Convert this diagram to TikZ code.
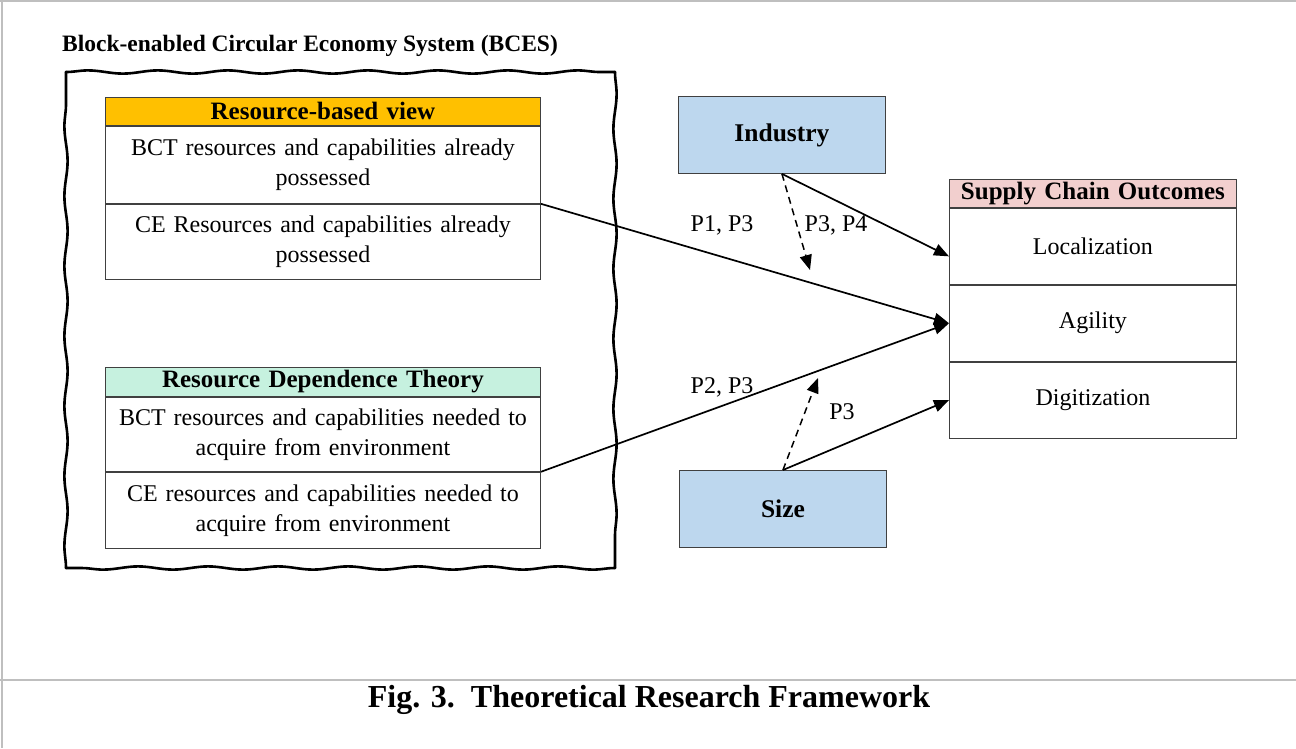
\documentclass[tikz,border=0pt]{standalone}
\usepackage{fontspec}
\setmainfont{Liberation Serif}
\usetikzlibrary{positioning}
\usetikzlibrary{calc}
\usetikzlibrary{arrows.meta}
\usetikzlibrary{decorations.pathmorphing}
\definecolor{rbvorange}{HTML}{FFC000}
\definecolor{rdtmint}{HTML}{C6F1DF}
\definecolor{scopink}{HTML}{F2CFCE}
\definecolor{ctrlblue}{HTML}{BDD7EE}

\tikzset{
 cell/.style={draw=black!75, line width=0.9pt, fill=white, inner sep=0pt, align=center,
   text width=#1, font=\fontsize{24}{30}\selectfont},
 hdr/.style={cell=#1, font=\bfseries\fontsize{25}{26}\selectfont},
 ctrl/.style={draw=black!75, line width=0.9pt, fill=ctrlblue, minimum width=207pt,
   minimum height=77pt, inner sep=0pt, font=\bfseries\fontsize{25.5}{26}\selectfont},
 link/.style={line width=1.7pt, -{Triangle[length=15pt,width=12pt]}},
 plab/.style={font=\fontsize{24}{26}\selectfont, inner sep=1pt},
 wavy/.style={line width=2.6pt, line cap=round, decorate, decoration={snake, amplitude=1.6pt, segment length=70pt}},
}

\begin{document}
\begin{tikzpicture}[x=1pt, y=-1pt]
\useasboundingbox (0,0) rectangle (1296,748);
% frame
\draw[black!25, line width=2pt] (0,1)--(1296,1) (1.5,0)--(1.5,748) (0,680)--(1296,680);

% BCES block
\node[anchor=west, inner sep=0pt, font=\bfseries\fontsize{23.5}{26}\selectfont] (bces) at (62,46) {Block-enabled Circular Economy System (BCES)};
\coordinate (w1) at (66,72);
\coordinate (w2) at (615,72);
\coordinate (w3) at (615,568);
\coordinate (w4) at (66,568);
\draw[wavy] (w1) -- (w2);
\draw[wavy] (w2) -- (w3);
\draw[wavy] (w3) -- (w4);
\draw[wavy] (w4) -- (w1);

\node[hdr=435pt, fill=rbvorange, minimum height=28pt, anchor=north west] (rbv) at (105,97) {Resource-based view};
\node[cell=435pt, minimum height=77pt, below=0pt of rbv] (rbv1) {BCT resources and capabilities already\\ possessed};
\node[cell=435pt, minimum height=75pt, below=0pt of rbv1] (rbv2) {CE Resources and capabilities already\\ possessed};

\node[hdr=435pt, fill=rdtmint, minimum height=29pt, anchor=north west] (rdt) at (105,367) {Resource Dependence Theory};
\node[cell=435pt, minimum height=74pt, below=0pt of rdt] (rdt1) {BCT resources and capabilities needed to\\ acquire from environment};
\node[cell=435pt, minimum height=76pt, below=0pt of rdt1] (rdt2) {CE resources and capabilities needed to\\ acquire from environment};

% moderators
\node[ctrl, anchor=north west] (ind) at (678,96) {Industry};
\node[ctrl, anchor=north west] (size) at (679,470) {Size};

% outcomes
\node[hdr=287pt, fill=scopink, minimum height=28pt, anchor=north west] (sco) at (949,179) {Supply Chain Outcomes};
\node[cell=287pt, minimum height=76pt, below=0pt of sco] (loc) {Localization};
\node[cell=287pt, minimum height=76pt, below=0pt of loc] (agil) {Agility};
\node[cell=287pt, minimum height=76pt, below=0pt of agil] (digi) {Digitization};

% links
\coordinate (m1) at (810,270);
\coordinate (m2) at (818,378);
\draw[link] (rbv2.north east) -- (agil.west);
\draw[link] (rdt2.north east) -- (agil.west);
\draw[link] (ind.south) -- ($(loc.west)+(0,10)$);
\draw[link] (size.north) -- (digi.west);
\draw[link, line width=1.5pt, dash pattern=on 7pt off 5pt] (ind.south) -- (m1);
\draw[link, line width=1.5pt, dash pattern=on 7pt off 5pt] (size.north) -- (m2);

\node[plab] (p13) at (722,225) {P1, P3};
\node[plab] (p34) at (836,225) {P3, P4};
\node[plab] (p23) at (722,387) {P2, P3};
\node[plab] (p3) at (842,412) {P3};

% caption
\node[font=\bfseries\fontsize{32}{34}\selectfont] (cap) at (649,700) {Fig. 3.\ \ Theoretical Research Framework};
\end{tikzpicture}
\end{document}
